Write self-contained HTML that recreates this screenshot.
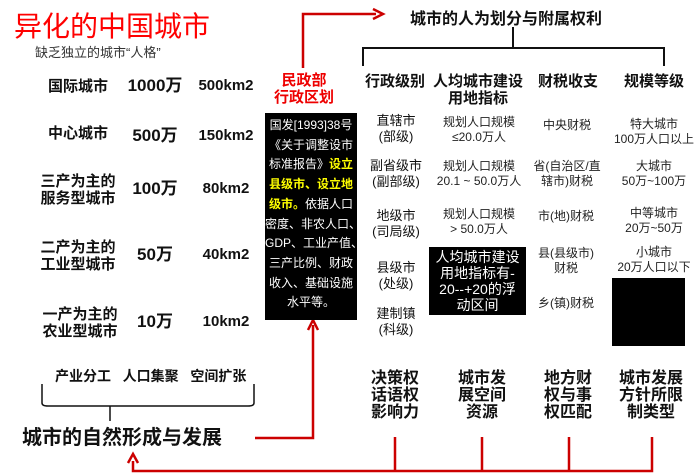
<!DOCTYPE html>
<html><head><meta charset="utf-8"><style>
body{margin:0;width:700px;height:473px;background:#fff;position:relative;overflow:hidden;font-family:"Liberation Sans","Noto Sans CJK SC",sans-serif;color:#111}
.a{position:absolute;white-space:nowrap}
.b{font-weight:bold}
.c{transform:translateX(-50%);text-align:center}
.r15{font-size:15px;font-weight:bold;line-height:17px}
.n{font-size:12px;line-height:15px;color:#222}
.p{font-size:17px;font-weight:bold;line-height:20px}
.k{font-size:15px;font-weight:bold;line-height:20px}
</style></head><body>
<div class="a" style="left:14px;top:10px;font-size:28px;color:#f00;line-height:34px">异化的中国城市</div>
<div class="a" style="left:35px;top:42px;font-size:13px;color:#333">缺乏独立的城市“人格”</div>

<div class="a c r15" style="left:78px;top:78px">国际城市</div>
<div class="a c p" style="left:155px;top:76px">1000万</div>
<div class="a c k" style="left:226px;top:76px">500km2</div>
<div class="a c r15" style="left:78px;top:125px">中心城市</div>
<div class="a c p" style="left:155px;top:126px">500万</div>
<div class="a c k" style="left:226px;top:126px">150km2</div>
<div class="a c r15" style="left:78px;top:173px">三产为主的<br>服务型城市</div>
<div class="a c p" style="left:155px;top:179px">100万</div>
<div class="a c k" style="left:226px;top:179px">80km2</div>
<div class="a c r15" style="left:78px;top:239px">二产为主的<br>工业型城市</div>
<div class="a c p" style="left:155px;top:245px">50万</div>
<div class="a c k" style="left:226px;top:245px">40km2</div>
<div class="a c r15" style="left:80px;top:306px">一产为主的<br>农业型城市</div>
<div class="a c p" style="left:155px;top:312px">10万</div>
<div class="a c k" style="left:226px;top:312px">10km2</div>

<div class="a b" style="left:55px;top:366px;font-size:14px">产业分工&nbsp;&nbsp;&nbsp;人口集聚&nbsp;&nbsp;&nbsp;空间扩张</div>
<svg class="a" style="left:0;top:0" width="700" height="473">
<path d="M42,384 V403 Q42,406 48,406 H110 V421 M110,406 H248 Q254,406 254,403 V384" fill="none" stroke="#111" stroke-width="1.5"/>
<path d="M513,27 V48 M363,66 V48 H664 V66" fill="none" stroke="#111" stroke-width="2"/>
<path d="M303,68 V14 H376" fill="none" stroke="#c00" stroke-width="2.5"/>
<path d="M373,9 L383,14 L373,19" fill="none" stroke="#c00" stroke-width="2.5"/>
<path d="M255,438 H313 V325" fill="none" stroke="#c00" stroke-width="2.5"/>
<path d="M308,330 L313,320 L318,330" fill="none" stroke="#c00" stroke-width="2.5"/>
<path d="M133,461 V471 H652 V437 M395,471 V437 M482,471 V437 M569,471 V437" fill="none" stroke="#c00" stroke-width="2.5"/>
<path d="M128,463 L133,454 L138,463" fill="none" stroke="#c00" stroke-width="2.5"/>
</svg>
<div class="a b" style="left:22px;top:426px;font-size:20px;line-height:24px">城市的自然形成与发展</div>

<div class="a b" style="left:410px;top:5px;font-size:16px">城市的人为划分与附属权利</div>
<div class="a c r15" style="left:304px;top:72px;color:#e00">民政部<br>行政区划</div>
<div class="a" style="left:265px;top:113px;width:92px;height:204px;background:#000;color:#fff;font-size:12px;line-height:19.7px;padding-top:3px;text-align:center;overflow:hidden">国发[1993]38号<br>《关于调整设市<br>标准报告》<b style="color:#ff0">设立</b><br><b style="color:#ff0">县级市、设立地</b><br><b style="color:#ff0">级市。</b>依据人口<br>密度、非农人口、<br>GDP、工业产值、<br>三产比例、财政<br>收入、基础设施<br>水平等。</div>

<div class="a c r15" style="left:395px;top:73px">行政级别</div>
<div class="a c r15" style="left:478px;top:73px">人均城市建设<br>用地指标</div>
<div class="a c r15" style="left:568px;top:73px">财税收支</div>
<div class="a c r15" style="left:654px;top:73px">规模等级</div>

<div class="a c" style="left:396px;top:113px;font-size:13px;line-height:16px">直辖市<br>(部级)</div>
<div class="a c" style="left:396px;top:158px;font-size:13px;line-height:16px">副省级市<br>(副部级)</div>
<div class="a c" style="left:396px;top:208px;font-size:13px;line-height:16px">地级市<br>(司局级)</div>
<div class="a c" style="left:396px;top:260px;font-size:13px;line-height:16px">县级市<br>(处级)</div>
<div class="a c" style="left:396px;top:306px;font-size:13px;line-height:16px">建制镇<br>(科级)</div>

<div class="a c n" style="left:479px;top:115px">规划人口规模<br>≤20.0万人</div>
<div class="a c n" style="left:479px;top:159px">规划人口规模<br>20.1 ~ 50.0万人</div>
<div class="a c n" style="left:479px;top:207px">规划人口规模<br>&gt; 50.0万人</div>
<div class="a" style="left:429px;top:247px;width:97px;height:68px;background:#000;color:#fff;font-size:14px;line-height:16px;text-align:center;padding-top:2px;box-sizing:border-box;overflow:hidden">人均城市建设<br>用地指标有-<br>20--+20的浮<br>动区间</div>

<div class="a c n" style="left:567px;top:118px">中央财税</div>
<div class="a c n" style="left:567px;top:159px">省(自治区/直<br>辖市)财税</div>
<div class="a c n" style="left:566px;top:209px">市(地)财税</div>
<div class="a c n" style="left:566px;top:246px">县(县级市)<br>财税</div>
<div class="a c n" style="left:566px;top:296px">乡(镇)财税</div>

<div class="a c n" style="left:654px;top:117px">特大城市<br>100万人口以上</div>
<div class="a c n" style="left:654px;top:159px">大城市<br>50万~100万</div>
<div class="a c n" style="left:654px;top:206px">中等城市<br>20万~50万</div>
<div class="a c n" style="left:654px;top:245px">小城市<br>20万人口以下</div>
<div class="a" style="left:612px;top:278px;width:73px;height:68px;background:#000"></div>

<div class="a c b" style="left:395px;top:370px;font-size:16px;line-height:17px">决策权<br>话语权<br>影响力</div>
<div class="a c b" style="left:482px;top:370px;font-size:16px;line-height:17px">城市发<br>展空间<br>资源</div>
<div class="a c b" style="left:568px;top:370px;font-size:16px;line-height:17px">地方财<br>权与事<br>权匹配</div>
<div class="a c b" style="left:651px;top:370px;font-size:16px;line-height:17px">城市发展<br>方针所限<br>制类型</div>
</body></html>
